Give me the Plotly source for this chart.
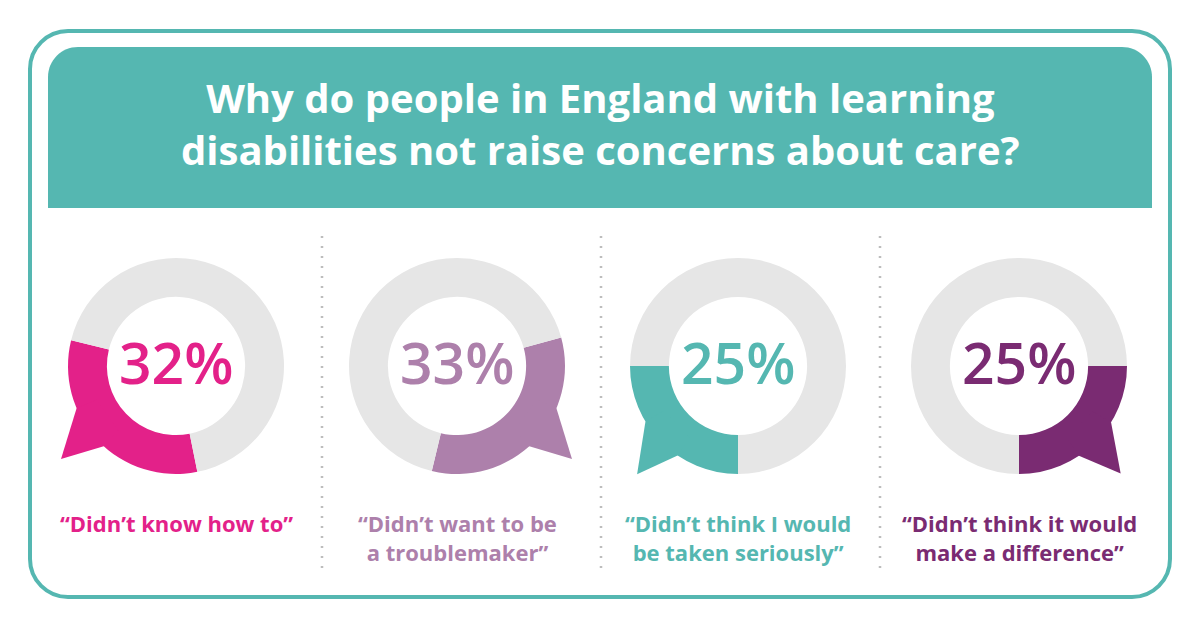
import math
import plotly.graph_objects as go

W, H = 1200, 628

# ---- data ----
title_text = "Why do people in England with learning<br>disabilities not raise concerns about care?"
reasons = ["“Didn’t know how to”",
           "“Didn’t want to be<br>a troublemaker”",
           "“Didn’t think I would<br>be taken seriously”",
           "“Didn’t think it would<br>make a difference”"]
percentages = [32, 33, 25, 25]

# ---- styles ----
colors = ["#e32189", "#ad80ab", "#55b7b1", "#7a2b72"]
grey = "#e6e6e6"
teal = "#55b7b1"
FONT = "Open Sans"

centers_x = [176, 457, 738, 1019]
center_y = 366
R = 108
hole = 0.64
rotations = [168.6, 74.7, 180, 90]
# tail geometry: (base angle 1, base angle 2, tip angle) in degrees clockwise from 12 o'clock
tails = [(222, 247, 231), (113, 138, 129), (214, 239, 223), (121.5, 146.3, 136.6)]
tip_factor = 1.37
separators_x = [322, 601, 880]


def px(x, y):
    return x / W, 1 - y / H


fig = go.Figure()

for i, p in enumerate(percentages):
    cx = centers_x[i]
    x0, y0 = px(cx - R, center_y + R)
    x1, y1 = px(cx + R, center_y - R)
    fig.add_trace(go.Pie(
        values=[p, 100 - p],
        labels=["yes", "no"],
        marker=dict(colors=[colors[i], grey], line=dict(width=0)),
        hole=hole, sort=False, direction="clockwise", rotation=rotations[i],
        textinfo="none", hoverinfo="skip", showlegend=False,
        domain=dict(x=[x0, x1], y=[y0, y1]),
    ))


def pt(cx, cy, r, a):
    a = math.radians(a)
    return px(cx + r * math.sin(a), cy - r * math.cos(a))


shapes = []


def rounded_path(x0, y0, x1, y1, r, bottom_round=True):
    k = 0.5523 * r
    def P(x, y):
        X, Y = px(x, y)
        return f"{X:.5f},{Y:.5f}"
    d = f"M{P(x0 + r, y0)} L{P(x1 - r, y0)} C{P(x1 - r + k, y0)} {P(x1, y0 + r - k)} {P(x1, y0 + r)} "
    if bottom_round:
        d += f"L{P(x1, y1 - r)} C{P(x1, y1 - r + k)} {P(x1 - r + k, y1)} {P(x1 - r, y1)} "
        d += f"L{P(x0 + r, y1)} C{P(x0 + r - k, y1)} {P(x0, y1 - r + k)} {P(x0, y1 - r)} "
    else:
        d += f"L{P(x1, y1)} L{P(x0, y1)} "
    d += f"L{P(x0, y0 + r)} C{P(x0, y0 + r - k)} {P(x0 + r - k, y0)} {P(x0 + r, y0)} Z"
    return d


# outer border
shapes.append(dict(type="path", xref="paper", yref="paper", layer="below",
                   path=rounded_path(30, 31, 1170, 597, 38),
                   line=dict(color=teal, width=4), fillcolor="rgba(0,0,0,0)"))
# title banner
shapes.append(dict(type="path", xref="paper", yref="paper", layer="below",
                   path=rounded_path(48, 47, 1152, 208, 30, bottom_round=False),
                   line=dict(width=0), fillcolor=teal))
# dotted separators
for sx in separators_x:
    xa, ya = px(sx, 236)
    xb, yb = px(sx, 568)
    shapes.append(dict(type="line", xref="paper", yref="paper", layer="below",
                       x0=xa, y0=ya, x1=xb, y1=yb,
                       line=dict(color="#bdbdbd", width=2.5, dash="2px,8px")))
# speech-bubble tails
for i, (a1, a2, at) in enumerate(tails):
    cx = centers_x[i]
    pts = [pt(cx, center_y, R, a1), pt(cx, center_y, R * tip_factor, at),
           pt(cx, center_y, R, a2), pt(cx, center_y, R * 0.8, a2), pt(cx, center_y, R * 0.8, a1)]
    d = "M" + " L".join(f"{x:.5f},{y:.5f}" for x, y in pts) + " Z"
    shapes.append(dict(type="path", xref="paper", yref="paper", layer="above",
                       path=d, line=dict(width=0), fillcolor=colors[i]))

annotations = []
x, y = px(600, 124)
annotations.append(dict(text=title_text, x=x, y=y, xref="paper", yref="paper",
                        xanchor="center", yanchor="middle", showarrow=False, align="center",
                        font=dict(family=FONT, size=40, color="white", weight="bold")))
for i, p in enumerate(percentages):
    x, y = px(centers_x[i], center_y - 4)
    annotations.append(dict(text=f"{p}%", x=x, y=y, xref="paper", yref="paper",
                            xanchor="center", yanchor="middle", showarrow=False,
                            font=dict(family=FONT, size=57, color=colors[i], weight=600)))
    x, y = px(centers_x[i], 506)
    annotations.append(dict(text=reasons[i], x=x, y=y, xref="paper", yref="paper",
                            xanchor="center", yanchor="top", showarrow=False, align="center",
                            font=dict(family=FONT, size=22, color=colors[i], weight="bold")))

fig.update_layout(width=W, height=H, margin=dict(l=0, r=0, t=0, b=0),
                  paper_bgcolor="white", plot_bgcolor="white",
                  shapes=shapes, annotations=annotations, showlegend=False)

fig.write_html("out.html", config={"displayModeBar": False},
               post_script="document.body.style.margin='0';document.body.style.overflow='hidden';")
